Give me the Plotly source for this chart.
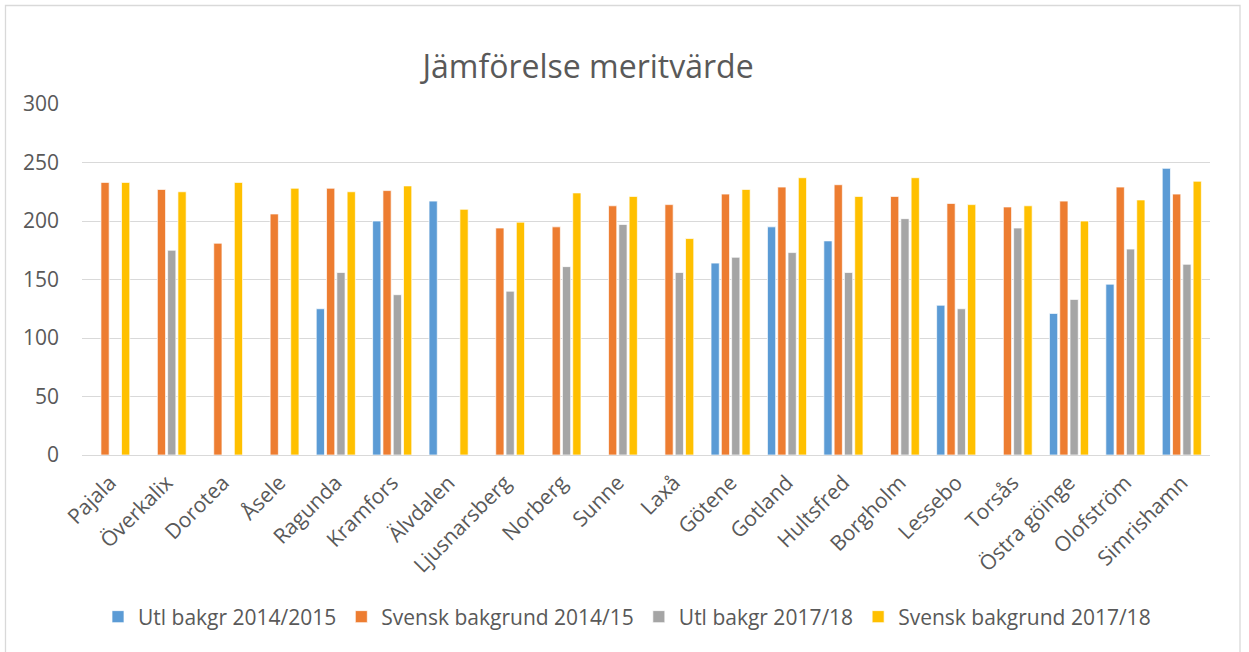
import plotly.graph_objects as go

categories = ["Pajala", "Överkalix", "Dorotea", "Åsele", "Ragunda", "Kramfors", "Älvdalen",
              "Ljusnarsberg", "Norberg", "Sunne", "Laxå", "Götene", "Gotland", "Hultsfred",
              "Borgholm", "Lessebo", "Torsås", "Östra göinge", "Olofström", "Simrishamn"]

utl_2014 = [None, None, None, None, 125, 200, 217, None, None, None, None, 164, 195, 183,
            None, 128, None, 121, 146, 245]
sv_2014 = [233, 227, 181, 206, 228, 226, None, 194, 195, 213, 214, 223, 229, 231,
           221, 215, 212, 217, 229, 223]
utl_2017 = [None, 175, None, None, 156, 137, None, 140, 161, 197, 156, 169, 173, 156,
            202, 125, 194, 133, 176, 163]
sv_2017 = [233, 225, 233, 228, 225, 230, 210, 199, 224, 221, 185, 227, 237, 221,
           237, 214, 213, 200, 218, 234]

series_names = ["Utl bakgr 2014/2015", "Svensk bakgrund 2014/15", "Utl bakgr 2017/18", "Svensk bakgrund 2017/18"]
series_values = [utl_2014, sv_2014, utl_2017, sv_2017]
colors = ["#5B9BD5", "#ED7D31", "#A5A5A5", "#FFC000"]

y_ticks = [0, 50, 100, 150, 200, 250, 300]

FONT = "Open Sans, DejaVu Sans, sans-serif"
TXT = "#595959"
W, H = 1249, 652

fig = go.Figure()
for name, vals, col in zip(series_names, series_values, colors):
    fig.add_trace(go.Bar(
        x=categories, y=vals, name=name,
        marker=dict(color=col, line=dict(color="white", width=0.7)),
    ))

fig.update_layout(
    width=W, height=H,
    paper_bgcolor="white", plot_bgcolor="white",
    margin=dict(l=82, r=39, t=104, b=197, autoexpand=False),
    barmode="group", bargap=0.27, bargroupgap=0.2,
    title=dict(text="Jämförelse meritvärde", x=588 / W, xref="container", xanchor="center",
               y=(H - 67) / H, yref="container", yanchor="middle",
               font=dict(family=FONT, size=32, color=TXT)),
    font=dict(family=FONT, color=TXT),
    legend=dict(orientation="h", x=627 / W, xanchor="center", xref="container",
                y=(H - 617) / H, yref="container", yanchor="middle",
                font=dict(family=FONT, size=21, color=TXT),
                itemwidth=30, traceorder="normal"),
    showlegend=True,
)

fig.update_yaxes(range=[0, 300], tickvals=y_ticks, showgrid=True, gridcolor="#D9D9D9",
                 gridwidth=1.3, zeroline=False, showline=False, ticks="",
                 tickfont=dict(family=FONT, size=21, color=TXT), ticklabelstandoff=22)
fig.update_xaxes(showline=True, linecolor="#D9D9D9", linewidth=1.3, ticks="",
                 tickangle=-45, tickfont=dict(family=FONT, size=21, color=TXT),
                 ticklabelstandoff=6)

fig.add_shape(type="rect", xref="paper", yref="paper",
              x0=(5.5 - 82) / 1128, x1=(1240 - 82) / 1128,
              y0=(455 - 670) / 351, y1=(455 - 5.5) / 351,
              line=dict(color="#D9D9D9", width=1.3), fillcolor="rgba(0,0,0,0)", layer="below")

fig.write_html("out.html", config={"displayModeBar": False},
               post_script="document.body.style.margin='0';document.body.style.overflow='hidden';")
